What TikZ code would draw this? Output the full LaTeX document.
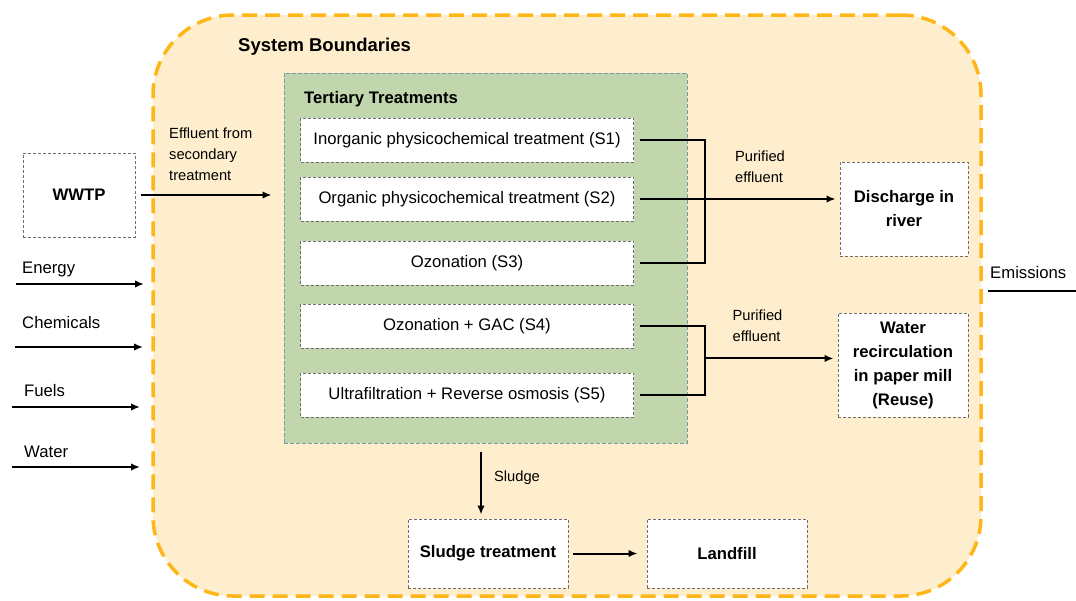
\documentclass[tikz,border=0pt]{standalone}
\usepackage{fontspec}
\setmainfont{Liberation Sans}
\usetikzlibrary{arrows.meta,calc}
\definecolor{bfill}{HTML}{FEEECD}
\definecolor{bdash}{HTML}{FFB619}
\definecolor{gfill}{HTML}{C2D6AE}
\definecolor{gdash}{HTML}{7A98A8}
\definecolor{boxdash}{HTML}{6E6E6E}
\begin{document}
\begin{tikzpicture}[x=1pt,y=-1pt,
 box/.style={draw=boxdash, dash pattern=on 3pt off 2pt, line width=0.9pt, fill=white, inner sep=0pt, align=center},
 sbox/.style={box, minimum width=333pt, minimum height=44pt, font=\fontsize{16.7}{24}\selectfont},
 bbox/.style={box, font=\fontsize{16.7}{24}\selectfont\bfseries},
 lbl/.style={inner sep=0pt, font=\fontsize{16.7}{24}\selectfont},
 slbl/.style={inner sep=0pt, align=left, font=\fontsize{14.7}{21}\selectfont},
 conn/.style={line width=2pt},
 arr/.style={conn, -{Latex[length=9pt,width=7.5pt]}}
]
\useasboundingbox (0,0) rectangle (1076,600);
\fill[white] (0,0) rectangle (1076,600);
% system boundary
\node[draw=bdash, fill=bfill, line width=3.5pt, dash pattern=on 15pt off 8pt, rounded corners=80pt,
  minimum width=828pt, minimum height=581pt, inner sep=0pt] (sys) at (567,305.5) {};
\node[lbl, font=\fontsize{18.5}{24}\selectfont\bfseries, anchor=base west] (systitle) at (238,51) {System Boundaries};
% tertiary treatments
\node[draw=gdash, dash pattern=on 4pt off 2pt, line width=0.9pt, fill=gfill,
  minimum width=403pt, minimum height=370pt, inner sep=0pt] (tert) at (485.5,258) {};
\node[lbl, font=\fontsize{16.7}{24}\selectfont\bfseries, anchor=base west] (terttitle) at (304,103) {Tertiary Treatments};
\node[sbox] (s1) at (467,140) {Inorganic physicochemical treatment (S1)};
\node[sbox] (s2) at (467,199) {Organic physicochemical treatment (S2)};
\node[sbox] (s3) at (467,263) {Ozonation (S3)};
\node[sbox] (s4) at (467,326) {Ozonation + GAC (S4)};
\node[sbox] (s5) at (467,395) {Ultrafiltration + Reverse osmosis (S5)};
% WWTP
\node[bbox, minimum width=112pt, minimum height=84pt] (wwtp) at (79,195) {WWTP};
\draw[arr] ([xshift=6pt]wwtp.east) -- ([xshift=-12pt]wwtp.east -| tert.west);
\node[slbl, anchor=north west] (efflbl) at (169,128) {Effluent from\\secondary\\treatment};
% inputs
\node[lbl, anchor=base west] (energy) at (22,273) {Energy};
\coordinate (ea) at (16,284); \coordinate (eb) at (144,284);
\draw[arr] (ea) -- (eb);
\node[lbl, anchor=base west] (chem) at (22,328) {Chemicals};
\coordinate (ca) at (15,347); \coordinate (cb) at (143,347);
\draw[arr] (ca) -- (cb);
\node[lbl, anchor=base west] (fuels) at (24,396) {Fuels};
\coordinate (fa) at (12,407); \coordinate (fb) at (140,407);
\draw[arr] (fa) -- (fb);
\node[lbl, anchor=base west] (water) at (24,457) {Water};
\coordinate (wa) at (12,467); \coordinate (wb) at (140,467);
\draw[arr] (wa) -- (wb);
% outputs
\node[bbox, minimum width=128pt, minimum height=94pt] (disc) at (904,209) {Discharge in\\river};
\node[bbox, minimum width=130pt, minimum height=104pt] (reuse) at (903,365) {Water\\recirculation\\in paper mill\\(Reuse)};
\draw[conn] ([xshift=6pt]s1.east) -| ([xshift=71.5pt]s3.east) -- ([xshift=6pt]s3.east);
\draw[arr] ([xshift=6pt]s2.east) -- ([xshift=-4pt]s2.east -| disc.west);
\node[slbl] (pur1) at (760,166.5) {Purified\\effluent};
\draw[conn] ([xshift=6pt]s4.east) -| ([xshift=71.5pt]s5.east) -- ([xshift=6pt]s5.east);
\coordinate (j2) at ($([xshift=71.5pt]s4.east)!0.47!([xshift=71.5pt]s5.east)$);
\draw[arr] (j2) -- ([xshift=-4pt]j2 -| reuse.west);
\node[slbl] (pur2) at (757.5,325.5) {Purified\\effluent};
% emissions
\node[lbl, anchor=base west] (emis) at (990,278) {Emissions};
\coordinate (ma) at (988,291); \coordinate (mb) at (1076,291);
\draw[conn] (ma) -- (mb);
% sludge
\node[bbox, minimum width=160pt, minimum height=69pt] (st) at (488,553.5) {Sludge treatment};
\node[bbox, minimum width=160pt, minimum height=69pt] (lf) at (727,553.5) {Landfill};
\draw[arr] ([xshift=-7pt,yshift=-9pt]tert.south -| st.north) -- ([xshift=-7pt,yshift=4pt]st.north);
\node[slbl] (sludgelbl) at (517,478) {Sludge};
\draw[arr] ([xshift=5pt]st.east) -- ([xshift=-9pt]lf.west);
\end{tikzpicture}
\end{document}
